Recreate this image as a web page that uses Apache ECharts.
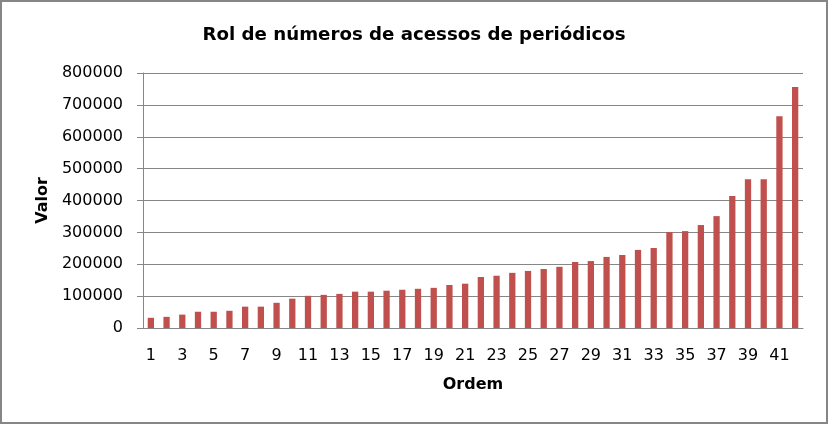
<!DOCTYPE html>
<html>
<head>
<meta charset="utf-8">
<script src="https://cdn.jsdelivr.net/npm/echarts@6/dist/echarts.min.js"></script>
<style>html,body{margin:0;padding:0;background:#fff}#c{width:828px;height:424px}</style>
</head>
<body>
<div id="c"></div>
<script>
var titleText = 'Rol de números de acessos de periódicos';
var xName = 'Ordem';
var yName = 'Valor';
var categories = [];
for (var i = 1; i <= 42; i++) categories.push(String(i));
var values = [32000, 35000, 42000, 51000, 51000, 54000, 67000, 67000, 79000, 92000,
  101000, 104000, 107000, 114000, 114000, 117000, 120000, 123000, 126000, 135000,
  139000, 160000, 164000, 173000, 179000, 185000, 192000, 207000, 210000, 223000,
  229000, 245000, 251000, 301000, 304000, 323000, 351000, 414000, 467000, 467000,
  664000, 756000];
var yMin = 0, yMax = 800000, yStep = 100000;

var chart = echarts.init(document.getElementById('c'), null, {renderer: 'canvas'});
var font = 'DejaVu Sans';
chart.setOption({
  animation: false,
  backgroundColor: '#ffffff',
  title: {
    text: titleText, left: 'center', top: 21,
    textStyle: {fontFamily: font, fontSize: 18.2, fontWeight: 'bold', color: '#000'}
  },
  graphic: [{
    type: 'rect', shape: {x: 1, y: 1, width: 826, height: 422},
    style: {fill: 'none', stroke: '#868686', lineWidth: 2}, silent: true
  }],
  grid: {left: 143, right: 25, top: 73, bottom: 96, containLabel: false},
  xAxis: {
    type: 'category', data: categories,
    name: xName, nameLocation: 'middle', nameGap: 49,
    nameTextStyle: {fontFamily: font, fontSize: 16, fontWeight: 'bold', color: '#000'},
    axisLine: {lineStyle: {color: '#868686', width: 1}},
    axisTick: {show: false},
    axisLabel: {interval: 1, margin: 20, fontFamily: font, fontSize: 16, color: '#000'}
  },
  yAxis: {
    type: 'value', min: yMin, max: yMax, interval: yStep,
    name: yName, nameLocation: 'middle', nameGap: 80, nameRotate: 90,
    nameTextStyle: {fontFamily: font, fontSize: 16, fontWeight: 'bold', color: '#000'},
    axisLine: {show: true, lineStyle: {color: '#868686', width: 1}},
    axisTick: {show: true, length: 6, lineStyle: {color: '#868686'}},
    splitLine: {lineStyle: {color: '#868686', width: 1}},
    axisLabel: {margin: 20, fontFamily: font, fontSize: 16, color: '#000',
      formatter: function (v) { return String(v); }}
  },
  series: [{
    type: 'bar', data: values, barWidth: '40%',
    itemStyle: {color: '#C0504D'}
  }]
});
</script>
</body>
</html>
